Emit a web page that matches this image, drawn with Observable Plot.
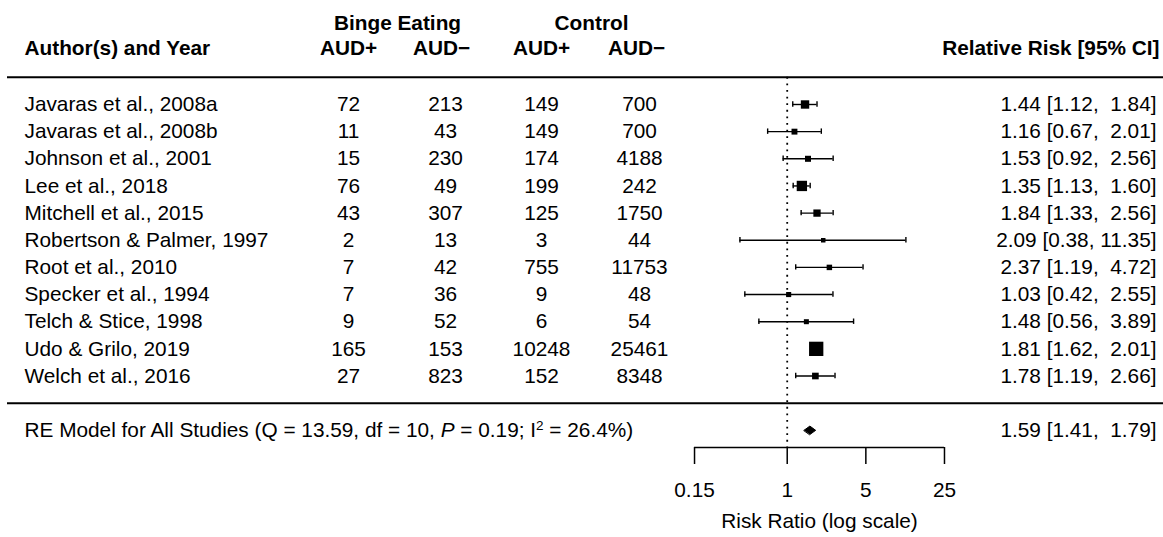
<!DOCTYPE html>
<html>
<head>
<meta charset="utf-8">
<script src="https://cdn.jsdelivr.net/npm/d3@7"></script>
<script src="https://cdn.jsdelivr.net/npm/@observablehq/plot@0.6"></script>
<style>
  html, body { margin: 0; padding: 0; background: #fff; }
  #chart svg { display: block; }
</style>
</head>
<body>
<div id="chart"></div>
<script>
// ---- data ----
const studies = [
  "Javaras et al., 2008a", "Javaras et al., 2008b", "Johnson et al., 2001",
  "Lee et al., 2018", "Mitchell et al., 2015", "Robertson & Palmer, 1997",
  "Root et al., 2010", "Specker et al., 1994", "Telch & Stice, 1998",
  "Udo & Grilo, 2019", "Welch et al., 2016"
];
const bingeAudPos = [72, 11, 15, 76, 43, 2, 7, 7, 9, 165, 27];
const bingeAudNeg = [213, 43, 230, 49, 307, 13, 42, 36, 52, 153, 823];
const controlAudPos = [149, 149, 174, 199, 125, 3, 755, 9, 6, 10248, 152];
const controlAudNeg = [700, 700, 4188, 242, 1750, 44, 11753, 48, 54, 25461, 8348];
const relRisk = [1.44, 1.16, 1.53, 1.35, 1.84, 2.09, 2.37, 1.03, 1.48, 1.81, 1.78];
const ciLow = [1.12, 0.67, 0.92, 1.13, 1.33, 0.38, 1.19, 0.42, 0.56, 1.62, 1.19];
const ciHigh = [1.84, 2.01, 2.56, 1.60, 2.56, 11.35, 4.72, 2.55, 3.89, 2.01, 2.66];
const reModel = { est: 1.59, low: 1.41, high: 1.79, Q: "13.59", df: 10, P: "0.19", I2: "26.4" };
const xTicks = [0.15, 1, 5, 25];
const groupHeaders = ["Binge Eating", "Control"];
const colHeaders = ["AUD+", "AUD\u2212", "AUD+", "AUD\u2212"];
const authorHeader = "Author(s) and Year";
const rrHeader = "Relative Risk [95% CI]";
const axisTitle = "Risk Ratio (log scale)";

// ---- build table ----
const k = studies.length;
const fmt = d3.format(".2f");
const ciText = (e, lo, hi) => `${fmt(e)} [${fmt(lo)}, ${fmt(hi).padStart(5, "\u00A0")}]`;
const rows = studies.map((s, i) => {
  const se = (Math.log(ciHigh[i]) - Math.log(ciLow[i])) / (2 * 1.96);
  return {
    study: s, row: k - i,
    bp: String(bingeAudPos[i]), bn: String(bingeAudNeg[i]),
    cp: String(controlAudPos[i]), cn: String(controlAudNeg[i]),
    rr: relRisk[i], lo: ciLow[i], hi: ciHigh[i], prec: 1 / se,
    label: ciText(relRisk[i], ciLow[i], ciHigh[i])
  };
});
const reRow = -1;
const topRow = k + 1;
const yMin = -1.633, yMax = 14.83;
const reLabel = `RE Model for All Studies (Q = ${reModel.Q}, df = ${reModel.df}, P = ${reModel.P}; I2 = ${reModel.I2}%)`;
const diamondH = 0.155;
const diamond = [
  { x: reModel.low, y: reRow }, { x: reModel.est, y: reRow + diamondH },
  { x: reModel.high, y: reRow }, { x: reModel.est, y: reRow - diamondH }
];

const FONT = "'Liberation Sans', Arial, Helvetica, sans-serif";
const FS = 20.8;
const capH = 0.1;

const plot = Plot.plot({
  width: 1163, height: 537,
  marginTop: 0, marginRight: 0, marginLeft: 0, marginBottom: 90,
  style: { fontFamily: FONT, fontSize: FS + "px", background: "#fff", color: "#000" },
  x: { type: "log", domain: [1.016e-7, 2212], axis: null },
  y: { type: "linear", domain: [yMin, yMax], axis: null },
  r: { type: "linear", domain: d3.extent(rows, d => d.prec), range: [2.54, 8.07] },
  marks: [
    // horizontal separators
    Plot.ruleY([topRow, 0], { insetLeft: 7, strokeWidth: 2, stroke: "#000" }),
    // dotted reference line at RR = 1
    Plot.ruleX([1], { y1: topRow, y2: yMin, stroke: "#000", strokeWidth: 1.8, strokeDasharray: "1.8,4.8" }),
    // axis line and ticks
    Plot.ruleY([yMin], { x1: xTicks[0], x2: xTicks[xTicks.length - 1], stroke: "#000", strokeWidth: 1.5 }),
    Plot.axisX({ ticks: xTicks, tickFormat: d => `${d}`, tickSize: 17, tickPadding: 18, strokeWidth: 1.5,
      fontSize: FS, label: null }),
    Plot.text([axisTitle], { x: Math.sqrt(xTicks[0] * xTicks[xTicks.length - 1]), frameAnchor: "bottom", dy: 80,
      fontSize: FS, fill: "#000" }),
    // CIs
    Plot.ruleY(rows, { x1: "lo", x2: "hi", y: "row", stroke: "#000", strokeWidth: 1.4 }),
    Plot.ruleX(rows, { x: "lo", y1: d => d.row - capH, y2: d => d.row + capH, stroke: "#000", strokeWidth: 1.4 }),
    Plot.ruleX(rows, { x: "hi", y1: d => d.row - capH, y2: d => d.row + capH, stroke: "#000", strokeWidth: 1.4 }),
    Plot.dot(rows, { x: "rr", y: "row", r: "prec", symbol: "square", fill: "#000", stroke: null }),
    // RE diamond
    Plot.line(diamond, { x: "x", y: "y", curve: "linear-closed", fill: "#000", stroke: "#000", strokeWidth: 1 }),
    // headers
    Plot.text([authorHeader], { y: k + 2, frameAnchor: "left", dx: 24, textAnchor: "start", fontWeight: "bold", fontSize: FS, dy: -2 }),
    Plot.text(groupHeaders, { y: k + 3, frameAnchor: "left", textAnchor: "middle", fontWeight: "bold", fontSize: FS, className: "grp" }),
    Plot.text([rrHeader], { y: k + 2, frameAnchor: "right", dx: -4, textAnchor: "end", fontWeight: "bold", fontSize: FS, dy: -2 }),
    ...colHeaders.map((h, j) => Plot.text([h], { y: k + 2, frameAnchor: "left", dx: [348, 441, 541, 636][j], textAnchor: "middle", fontWeight: "bold", fontSize: FS, dy: -2 })),
    // columns
    Plot.text(rows, { y: "row", text: "study", frameAnchor: "left", dx: 24, textAnchor: "start", fontSize: FS }),
    Plot.text(rows, { y: "row", text: "bp", frameAnchor: "left", dx: 348, textAnchor: "middle", fontSize: FS }),
    Plot.text(rows, { y: "row", text: "bn", frameAnchor: "left", dx: 445, textAnchor: "middle", fontSize: FS }),
    Plot.text(rows, { y: "row", text: "cp", frameAnchor: "left", dx: 541, textAnchor: "middle", fontSize: FS }),
    Plot.text(rows, { y: "row", text: "cn", frameAnchor: "left", dx: 639, textAnchor: "middle", fontSize: FS }),
    Plot.text(rows, { y: "row", text: "label", frameAnchor: "right", dx: -7, textAnchor: "end", fontSize: FS }),
    // RE row
    Plot.text([reLabel], { y: reRow, frameAnchor: "left", dx: 24, textAnchor: "start", fontSize: FS, className: "re-label" }),
    Plot.text([ciText(reModel.est, reModel.low, reModel.high)], { y: reRow, frameAnchor: "right", dx: -7, textAnchor: "end", fontSize: FS })
  ]
});

// position group headers (Binge Eating / Control)
const grpX = [397, 591];
d3.select(plot).selectAll("g.grp text").each(function (d, i) {
  d3.select(this).attr("x", grpX[i]);
});

// rich formatting for the RE label: italic P and superscript 2
d3.select(plot).selectAll("g.re-label text").each(function () {
  const el = d3.select(this);
  el.text(null);
  const parts = [
    [`RE Model for All Studies (Q = ${reModel.Q}, df = ${reModel.df}, `, {}],
    ["P", { "font-style": "italic" }],
    [` = ${reModel.P}; I`, {}],
    ["2", { "font-size": "0.65em", "baseline-shift": "super" }],
    [` = ${reModel.I2}%)`, {}]
  ];
  for (const [t, st] of parts) {
    const ts = el.append("tspan").text(t);
    for (const [key, v] of Object.entries(st)) ts.attr(key, v);
  }
});

document.getElementById("chart").appendChild(plot);
</script>
</body>
</html>
